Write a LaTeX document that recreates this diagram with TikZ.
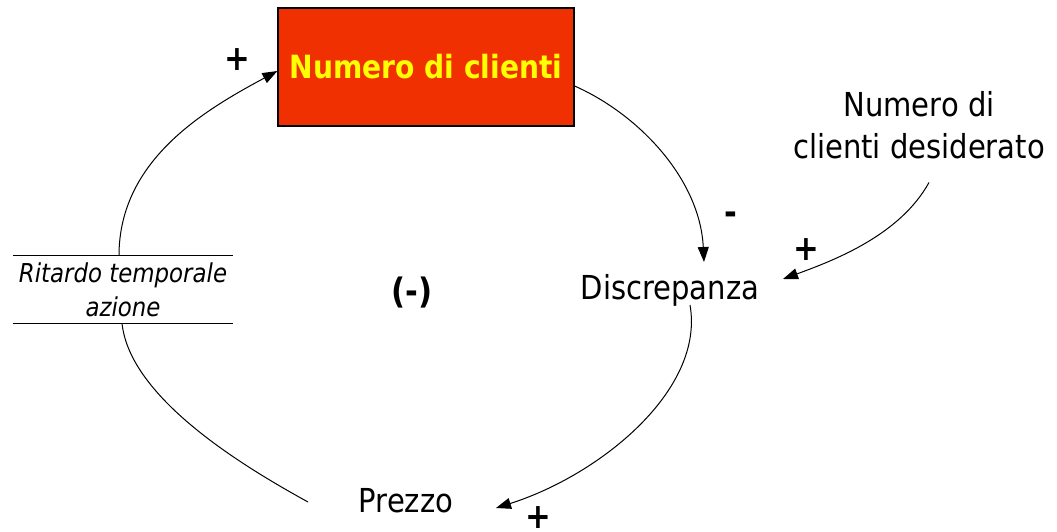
\documentclass[tikz,border=0pt]{standalone}
\usepackage{fontspec}
\setmainfont{DejaVu Sans}[FakeStretch=0.88]
\usetikzlibrary{arrows.meta,calc}
\definecolor{boxred}{RGB}{240,48,0}
\definecolor{boxyellow}{RGB}{255,255,0}
\begin{document}
\begin{tikzpicture}[x=1pt,y=1pt,
  conn/.style={line width=1pt,-{Triangle[length=15pt,width=11pt]}},
  plainconn/.style={line width=1pt},
  lbl/.style={font=\fontsize{33}{42}\selectfont, inner sep=0pt},
  sign/.style={font=\bfseries\fontsize{35}{38}\selectfont, inner sep=0pt},
  stockbox/.style={draw=black, line width=1.2pt, fill=boxred, minimum width=296pt,
    minimum height=118pt, text=boxyellow, font=\bfseries\fontsize{32}{38}\selectfont},
  delaytext/.style={font=\itshape\fontsize{26}{34}\selectfont, align=center,
    minimum width=220pt, minimum height=67pt, inner sep=0pt}]
\useasboundingbox (0,0) rectangle (1057,-532);

\node[stockbox] (nc) at (426,-67) {Numero di clienti};
\node[lbl, anchor=base] (disc) at (670,-299) {Discrepanza};
\node[lbl, anchor=base] (prezzo) at (406,-512) {Prezzo};
\node[lbl, align=center] (des) at (919,-125.5) {Numero di\\clienti desiderato};
\node[delaytext] (dl) at (123,-289.5) {Ritardo temporale\\azione};
\node[sign] (loop) at (412,-293) {(-)};

\node[sign] (s1) at (237,-60) {+};
\node[sign] (s2) at (731,-218) {-};
\node[sign] (s3) at (806,-250) {+};
\node[sign] (s4) at (538,-518) {+};

% delay marker lines
\draw[line width=1pt] (dl.north west) -- (dl.north east);
\draw[line width=1pt] (dl.south west) -- (dl.south east);

% connectors
\draw[conn] ([xshift=-4pt]dl.north) .. controls ($(dl.north)+(-4,96)$) and (205,-110) .. ([yshift=-4pt]nc.west);
\draw[conn] ([yshift=-19pt]nc.east) .. controls (640,-115) and (700,-180) .. ([shift={(34,37)}]disc.base);
\draw[conn] ([shift={(10,-23)}]des.south) .. controls (900,-235) and (835,-260) .. ([shift={(113,20)}]disc.base);
\draw[conn] ([shift={(20,-6)}]disc.base) .. controls (705,-390) and (600,-475) .. ([shift={(90,4)}]prezzo.base);
\draw[plainconn] ([shift={(-98,10)}]prezzo.base) .. controls (250,-470) and (130,-400) .. ([xshift=-1pt]dl.south);
\end{tikzpicture}
\end{document}
